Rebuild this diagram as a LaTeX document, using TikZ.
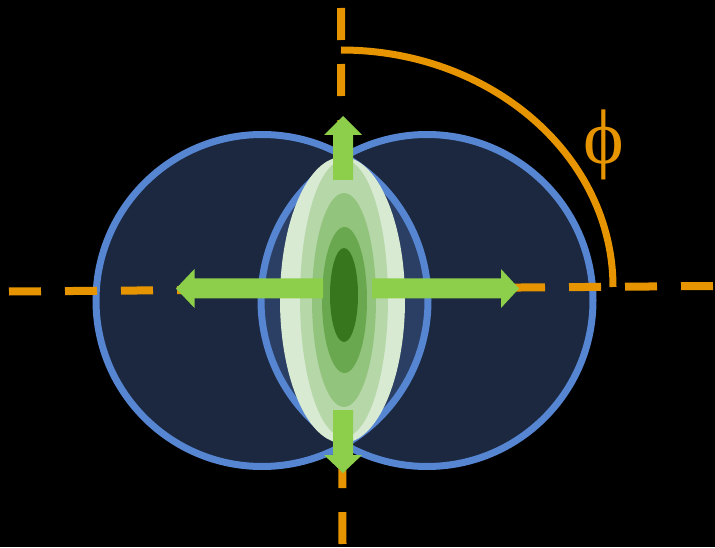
\documentclass[tikz,border=0pt]{standalone}
\usepackage{fontspec}
\setmainfont{Liberation Serif}
\usepackage{tikz}
\usetikzlibrary{calc}
\definecolor{lobefill}{RGB}{27,40,64}
\definecolor{lobemix}{RGB}{43,63,101}
\definecolor{lobeline}{RGB}{86,133,210}
\definecolor{axisorange}{RGB}{230,148,0}
\definecolor{arrowgreen}{RGB}{141,207,74}
\definecolor{greenA}{RGB}{217,234,211}
\definecolor{greenB}{RGB}{182,215,168}
\definecolor{greenC}{RGB}{147,196,125}
\definecolor{greenD}{RGB}{106,168,79}
\definecolor{greenE}{RGB}{56,118,29}
\tikzset{
  lobe/.style={fill=lobefill},
  lobeedge/.style={draw=lobeline, line width=0.21cm},
  axis/.style={draw=axisorange, line width=0.24cm,
               dash pattern=on 0.96cm off 0.72cm},
  anglearc/.style={draw=axisorange, line width=0.21cm},
  push/.style={fill=arrowgreen},
}

\begin{document}
\begin{tikzpicture}[x=0.03cm, y=0.03cm]

% ── Canvas ────────────────────────────────────────────────
\fill[black] (0,0) rectangle (715,547);
\useasboundingbox (0,0) rectangle (715,547);

\coordinate (cL) at (262,246.5);
\coordinate (cR) at (427,246.5);
\coordinate (core) at (343,247);

% ── Two lobes and their overlap ───────────────────────────
\fill[lobe] (cL) circle (166);
\fill[lobe] (cR) circle (166);
\begin{scope}
  \clip (cL) circle (166);
  \fill[lobemix] (cR) circle (166);
\end{scope}
\draw[lobeedge] (cL) circle (166);
\draw[lobeedge] (cR) circle (166);

% ── Dashed axes ───────────────────────────────────────────
\coordinate (ax@w) at (9,255.5);
\coordinate (ax@e) at (713,261);
\coordinate (ax@n) at (341,539);
\coordinate (ax@s) at (342.5,3);
\draw[axis] (ax@w) -- (ax@e);
\draw[axis] (ax@n) -- (ax@s);

% ── Nested green ellipses ─────────────────────────────────
\fill[greenA] (342.5,247) ellipse [x radius=62.5, y radius=143];
\fill[greenB] (344,248.5) ellipse [x radius=44, y radius=138.5];
\fill[greenC] (344,247) ellipse [x radius=32, y radius=107];
\fill[greenD] (344.5,247) ellipse [x radius=22.5, y radius=73];
\fill[greenE] (344,252) ellipse [x radius=14, y radius=47];

% ── Block arrows ──────────────────────────────────────────
% up
\fill[push] (333,367) -- (333,412) -- (324,412) -- (343,431)
            -- (362,412) -- (353,412) -- (353,367) -- cycle;
% down
\fill[push] (333,137) -- (333,92) -- (324,92) -- (343,74)
            -- (362,92) -- (353,92) -- (353,137) -- cycle;
% left
\fill[push] (323,268.5) -- (194.5,268.5) -- (194.5,278) -- (176,258.5)
            -- (194.5,239) -- (194.5,248.5) -- (323,248.5) -- cycle;
% right
\fill[push] (372,268.5) -- (501,268.5) -- (501,278) -- (519,258.5)
            -- (501,239) -- (501,248.5) -- (372,248.5) -- cycle;

% ── Angle arc and label ───────────────────────────────────
\coordinate (arc@c) at (341,260);
\draw[anglearc] ($(arc@c)+(0,237)$) arc [start angle=90, end angle=0,
      x radius=272, y radius=237];
\node[text=axisorange, font=\fontsize{66}{66}\selectfont, inner sep=0pt]
      (phi) at (604,402) {ϕ};

\end{tikzpicture}
\end{document}
